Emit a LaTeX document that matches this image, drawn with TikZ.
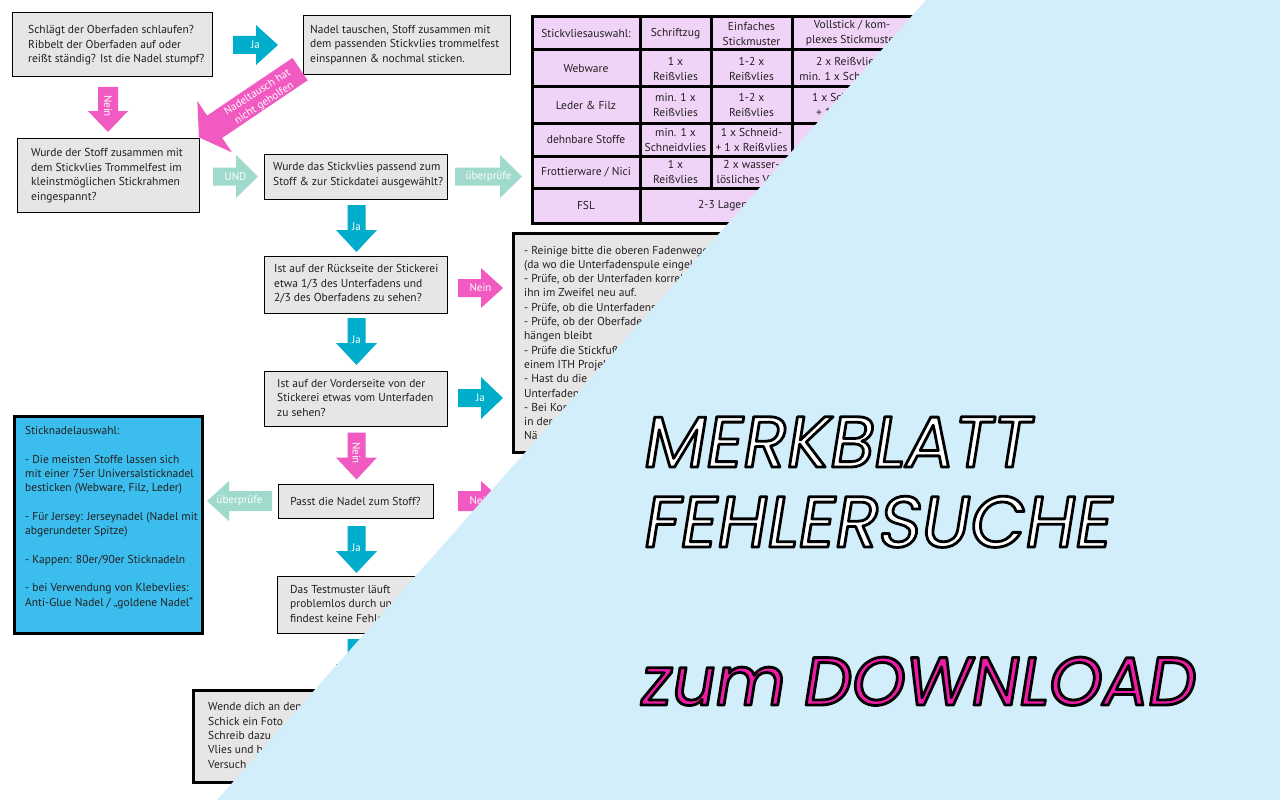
\documentclass[tikz,border=0pt]{standalone}
\usepackage{fontspec}
\setmainfont{PT Sans}
\newfontfamily\titlefont[FakeSlant=0.16]{Poppins}
\definecolor{boxgray}{RGB}{230,230,230}
\definecolor{cyanA}{RGB}{0,174,204}
\definecolor{pinkA}{RGB}{241,90,192}
\definecolor{tealA}{RGB}{160,218,204}
\definecolor{lav}{RGB}{240,212,248}
\definecolor{blueH}{RGB}{59,190,238}
\definecolor{sky}{RGB}{211,238,251}
\definecolor{titlepink}{RGB}{238,28,168}
\definecolor{ink}{RGB}{35,31,32}
\newcommand{\bodyf}{\fontsize{11.5pt}{14.5pt}\selectfont}
\newcommand{\celf}{\fontsize{11.5pt}{15pt}\selectfont}
\newcommand{\arrf}{\fontsize{11pt}{11.5pt}\selectfont}
\newcommand{\olt}[1]{\special{pdf:literal direct 2 Tr 2.8 w 1 j 0 0 0 RG}#1\special{pdf:literal direct 0 Tr}}
% #1 centre, #2 rotation, #3 length, #4 head width, #5 shaft width, #6 head length, #7 colour
\newcommand{\blockarr}[7]{%
  \fill[#7,shift={(#1)},rotate=#2]
    ({-#3/2},{-#5/2}) -- ({#3/2-#6},{-#5/2}) -- ({#3/2-#6},{-#4/2})
    -- ({#3/2},0) -- ({#3/2-#6},{#4/2}) -- ({#3/2-#6},{#5/2})
    -- ({-#3/2},{#5/2}) -- cycle;}
\begin{document}
\begin{tikzpicture}[x=1pt,y=-1pt,
  qbox/.style={draw=black,line width=1pt,fill=boxgray},
  tbox/.style={draw=black,line width=3pt,fill=boxgray},
  qtxt/.style={anchor=west,align=left,inner sep=0pt,font=\bodyf,text=ink},
  ctxt/.style={align=center,inner sep=0pt,font=\celf,text=ink},
  alab/.style={text=white,inner sep=0pt,font=\arrf,align=center},
  ttl/.style={anchor=base west,inner sep=0pt,font=\titlefont\fontsize{72pt}{72pt}\selectfont},
  grid/.style={draw=black,line width=3pt}]
\path[use as bounding box,fill=white] (0,0) rectangle (1280,800);

% ---------- question boxes ----------
\draw[qbox] (12,13) rectangle (212,77);
\node[qtxt] (qa) at (28,45.5) {Schlägt der Oberfaden schlaufen?\\Ribbelt der Oberfaden auf oder\\reißt ständig? Ist die Nadel stumpf?};
\draw[qbox] (303,16) rectangle (510,75);
\node[qtxt] (qb) at (310,45) {Nadel tauschen, Stoff zusammen mit\\dem passenden Stickvlies trommelfest\\einspannen \& nochmal sticken.};
\draw[qbox] (17,138) rectangle (199,212);
\node[qtxt] (qc) at (31,175.5) {Wurde der Stoff zusammen mit\\dem Stickvlies Trommelfest im\\kleinstmöglichen Stickrahmen\\eingespannt?};
\draw[qbox] (264,154) rectangle (447,199);
\node[qtxt] (qd) at (273,175) {Wurde das Stickvlies passend zum\\Stoff \& zur Stickdatei ausgewählt?};
\draw[qbox] (264,256) rectangle (447,313);
\node[qtxt] (qf) at (274,284) {Ist auf der Rückseite der Stickerei\\etwa 1/3 des Unterfadens und\\2/3 des Oberfadens zu sehen?};
\draw[qbox] (264,371) rectangle (447,426);
\node[qtxt] (qg) at (277,397.5) {Ist auf der Vorderseite von der\\Stickerei etwas vom Unterfaden\\zu sehen?};
\draw[qbox] (278,484) rectangle (433,518);
\node[ctxt] (qi) at (355.5,501) {Passt die Nadel zum Stoff?};
\draw[qbox] (277,576) rectangle (450,633);
\node[qtxt] (qj) at (290,603.5) {Das Testmuster läuft\\problemlos durch und\\findest keine Fehler};

% ---------- thick boxes ----------
\draw[tbox] (513,233) rectangle (840,452);
\node[qtxt,font=\fontsize{11.5pt}{14.3pt}\selectfont] (qe) at (524,343) {- Reinige bitte die oberen Fadenwege\\(da wo die Unterfadenspule eingelegt\\- Prüfe, ob der Unterfaden korrekt\\ihn im Zweifel neu auf.\\- Prüfe, ob die Unterfadens\\- Prüfe, ob der Oberfaden\\hängen bleibt\\- Prüfe die Stickfuß\\einem ITH Projekt\\- Hast du die\\Unterfaden\\- Bei Kon\\in der\\Nä};
\draw[draw=black,line width=3pt,fill=blueH] (14.5,416.5) rectangle (202,633);
\node[qtxt,font=\fontsize{11.5pt}{14.3pt}\selectfont] (qh) at (25,517.5) {Sticknadelauswahl:\\[14.3pt]- Die meisten Stoffe lassen sich\\mit einer 75er Universalsticknadel\\besticken (Webware, Filz, Leder)\\[14.3pt]- Für Jersey: Jerseynadel (Nadel mit\\abgerundeter Spitze)\\[14.3pt]- Kappen: 80er/90er Sticknadeln\\[14.3pt]- bei Verwendung von Klebevlies:\\Anti-Glue Nadel / „goldene Nadel“};
\draw[tbox] (193.5,690.5) rectangle (420,782);
\node[qtxt,font=\fontsize{11.5pt}{14.3pt}\selectfont] (qk) at (208,735.5) {Wende dich an den\\Schick ein Foto\\Schreib dazu\\Vlies und h\\Versuch};

% ---------- table ----------
\fill[lav] (532,17) rectangle (912,223);
\draw[grid] (532,17) rectangle (912,223);
\draw[grid] (532,50) -- (912,50);
\draw[grid] (532,87) -- (912,87);
\draw[grid] (532,123) -- (912,123);
\draw[grid] (532,156) -- (912,156);
\draw[grid] (532,188) -- (912,188);
\draw[grid] (640,17) -- (640,223);
\draw[grid] (711,17) -- (711,188);
\draw[grid] (792,17) -- (792,188);
\node[ctxt] (h1) at (586,33.5) {Stickvliesauswahl:};
\node[ctxt] (h2) at (675.5,33.5) {Schriftzug};
\node[ctxt] (h3) at (751.5,33.5) {Einfaches\\Stickmuster};
\node[ctxt] (h4) at (852,33.5) {Vollstick / kom-\\plexes Stickmuster};
\node[ctxt] (r1a) at (586,68.5) {Webware};
\node[ctxt] (r1b) at (675.5,68.5) {1 x\\Reißvlies};
\node[ctxt] (r1c) at (751.5,68.5) {1-2 x\\Reißvlies};
\node[ctxt] (r1d) at (852,68.5) {2 x Reißvlies +\\min. 1 x Schneidvlies};
\node[ctxt] (r2a) at (586,105) {Leder \& Filz};
\node[ctxt] (r2b) at (675.5,105) {min. 1 x\\Reißvlies};
\node[ctxt] (r2c) at (751.5,105) {1-2 x\\Reißvlies};
\node[ctxt] (r2d) at (852,105) {1 x Schneidvlies\\+ 1 x Reißvlies};
\node[ctxt] (r3a) at (586,139.5) {dehnbare Stoffe};
\node[ctxt] (r3b) at (675.5,139.5) {min. 1 x\\Schneidvlies};
\node[ctxt] (r3c) at (751.5,139.5) {1 x Schneid-\\+ 1 x Reißvlies};
\node[ctxt] (r4a) at (586,172) {Frottierware / Nici};
\node[ctxt] (r4b) at (675.5,172) {1 x\\Reißvlies};
\node[ctxt] (r4c) at (751.5,172) {2 x wasser-\\lösliches Vlies};
\node[ctxt] (r5a) at (586,205.5) {FSL};
\node[ctxt] (r5b) at (776,205.5) {2-3 Lagen wasserlösliches Vlies};

% ---------- block arrows ----------
\blockarr{255.5,45}{0}{45}{40}{18}{22}{cyanA}
\node[alab] (la1) at (255.5,45) {Ja};
\blockarr{108,109.5}{-90}{45}{40}{20}{21}{pinkA}
\node[alab,rotate=-90] (la2) at (108,106) {Nein};
\blockarr{249.5,103.25}{214}{122}{62}{27}{19}{pinkA}
\node[alab,rotate=33,font=\fontsize{11pt}{12.5pt}\selectfont] (la3) at (261,98) {Nadeltausch hat\\nicht geholfen};
\blockarr{235.5,176.5}{0}{45}{43}{18}{22}{tealA}
\node[alab] (la4) at (235.5,176.5) {UND};
\blockarr{488.5,176.5}{0}{67}{43}{18}{22}{tealA}
\node[alab] (la5) at (488.5,176.5) {überprüfe};
\blockarr{356.5,228.5}{-90}{47}{41}{18}{22}{cyanA}
\node[alab] (la6) at (356.5,227) {Ja};
\blockarr{480.5,288}{0}{45}{40}{18}{22}{pinkA}
\node[alab] (la7) at (480.5,288) {Nein};
\blockarr{356.5,341.5}{-90}{47}{41}{18}{22}{cyanA}
\node[alab] (la8) at (356.5,340) {Ja};
\blockarr{480.5,398}{0}{45}{42}{18}{22}{cyanA}
\node[alab] (la9) at (480.5,398) {Ja};
\blockarr{356.5,456}{-90}{47}{41}{18}{22}{pinkA}
\node[alab,rotate=-90] (la10) at (356.5,453) {Nein};
\blockarr{239.5,501}{180}{65}{40}{20}{22}{tealA}
\node[alab] (la11) at (239.5,501) {überprüfe};
\blockarr{480.5,501}{0}{45}{40}{20}{22}{pinkA}
\node[alab] (la12) at (480.5,501) {Nein};
\blockarr{356.5,549.5}{-90}{47}{41}{18}{22}{cyanA}
\node[alab] (la13) at (356.5,548) {Ja};
\blockarr{356.5,662.5}{-90}{47}{41}{18}{22}{cyanA}

% ---------- overlay ----------
\fill[sky] (926,0) -- (1280,0) -- (1280,800) -- (217,800) -- cycle;

% ---------- title ----------
\node[ttl,text=white] (t1) at (641,467) {\olt{MERKBLATT}};
\node[ttl,text=white] (t2) at (641,547) {\olt{FEHLERSUCHE}};
\node[ttl,text=titlepink,font=\titlefont\fontsize{68pt}{68pt}\selectfont] (t3) at (638,705) {\olt{zum DOWNLOAD}};
\end{tikzpicture}
\end{document}
